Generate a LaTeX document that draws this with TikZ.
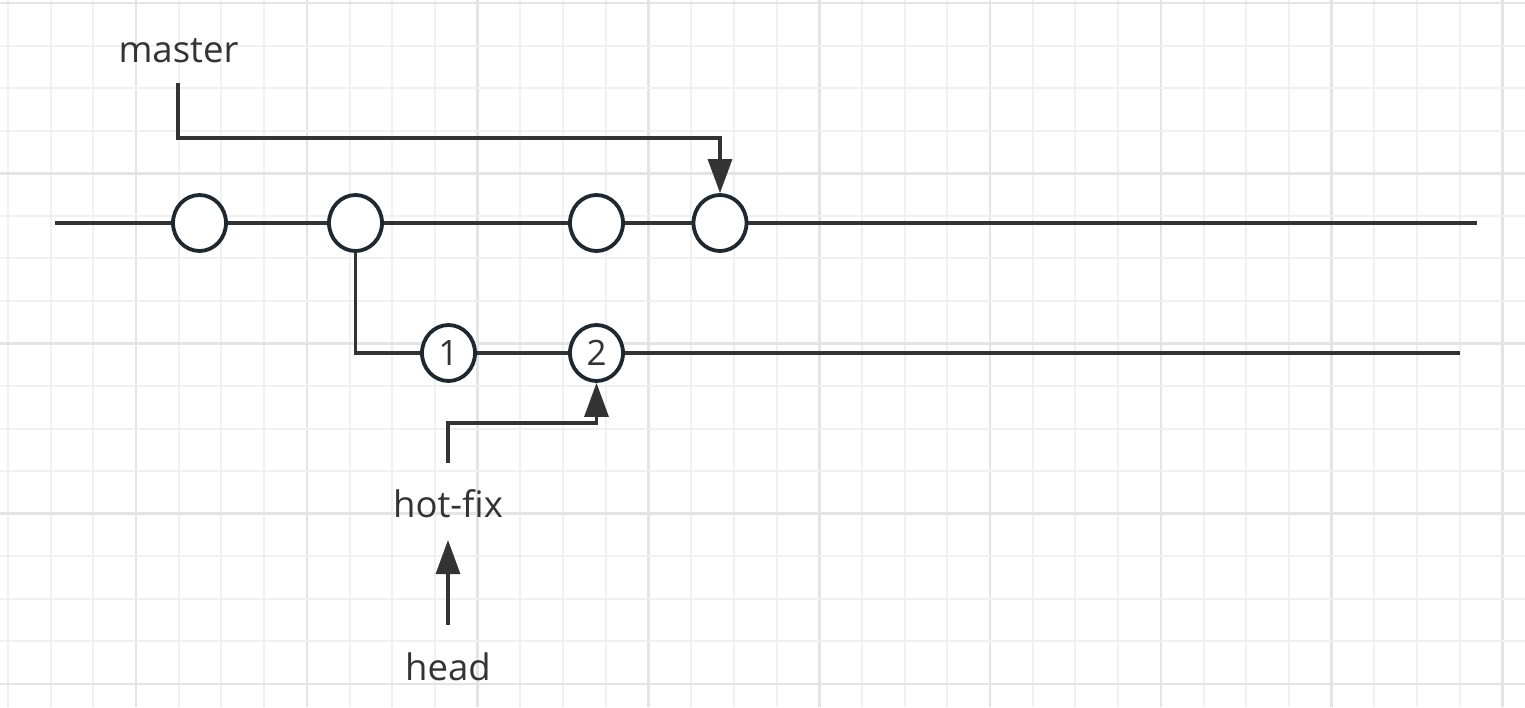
\documentclass[tikz,border=0pt]{standalone}
\usepackage{fontspec}
\setmainfont{Open Sans}
\usetikzlibrary{arrows.meta,shapes.geometric}
\definecolor{gridminor}{HTML}{F0F0F0}
\definecolor{gridmajor}{HTML}{E4E4E4}
\definecolor{lineclr}{HTML}{333333}
\definecolor{circclr}{HTML}{1E2830}
\tikzset{
  commit/.style={ellipse, draw=circclr, line width=3.8pt, fill=white,
    minimum width=53pt, minimum height=56pt, inner sep=0pt,
    font=\fontsize{35}{40}\selectfont, text=lineclr},
  branchline/.style={draw=lineclr, line width=3.2pt},
  ptr/.style={draw=lineclr, line width=3.2pt,
    -{Triangle[length=34pt,width=24pt,fill=lineclr]}},
  lbl/.style={anchor=base, inner sep=0pt, text=lineclr,
    font=\fontsize{36.5}{40}\selectfont},
}
\begin{document}
\begin{tikzpicture}[x=1pt,y=-1pt]
\useasboundingbox[fill=white] (0,0) rectangle (1525,707);
% grid
\foreach \k in {0,...,35}{
  \pgfmathtruncatemacro{\mm}{mod(\k,4)}
  \ifnum\mm=3
    \draw[gridmajor, line width=2.6pt] ({7.9+42.7*\k},0) -- ({7.9+42.7*\k},707);
  \else
    \draw[gridminor, line width=2pt] ({7.9+42.7*\k},0) -- ({7.9+42.7*\k},707);
  \fi
}
\foreach \k in {0,...,16}{
  \pgfmathtruncatemacro{\mm}{mod(\k,4)}
  \ifnum\mm=0
    \draw[gridmajor, line width=2.6pt] (0,{3+42.55*\k}) -- (1525,{3+42.55*\k});
  \else
    \draw[gridminor, line width=2pt] (0,{3+42.55*\k}) -- (1525,{3+42.55*\k});
  \fi
}
% main line commits
\node[commit] (c1) at (199.5,223) {};
\node[commit] (c2) at (355.5,223) {};
\node[commit] (c3) at (596.5,223) {};
\node[commit] (c4) at (720,223) {};
\coordinate (mL) at (55,223);
\coordinate (mR) at (1477,223);
\draw[branchline] (mL) -- (c1) -- (c2);
\draw[branchline] (c2) -- (c3) -- (c4) -- (mR);
% hot-fix branch commits
\node[commit] (h1) at (448.5,353) {1};
\node[commit] (h2) at (596.5,353) {2};
\coordinate (hR) at (1460,353);
\draw[branchline] (c2) |- (h1);
\draw[branchline] (h1) -- (h2);
\draw[branchline] (h2) -- (hR);
% master pointer
\node[lbl] (master) at (178.5,62) {master};
\coordinate (m0) at (178,83);
\coordinate (m1) at (178,138);
\draw[ptr] (m0) -- (m1) -| (c4);
% hot-fix pointer
\node[lbl] (hotfix) at (448,517) {hot-fix};
\coordinate (f0) at (448,463);
\coordinate (f1) at (448,423);
\draw[ptr] (f0) -- (f1) -| (h2);
% head pointer
\node[lbl] (head) at (448,680) {head};
\coordinate (hd0) at (448,625);
\coordinate (hd1) at (448,540);
\draw[ptr] (hd0) -- (hd1);
\end{tikzpicture}
\end{document}
